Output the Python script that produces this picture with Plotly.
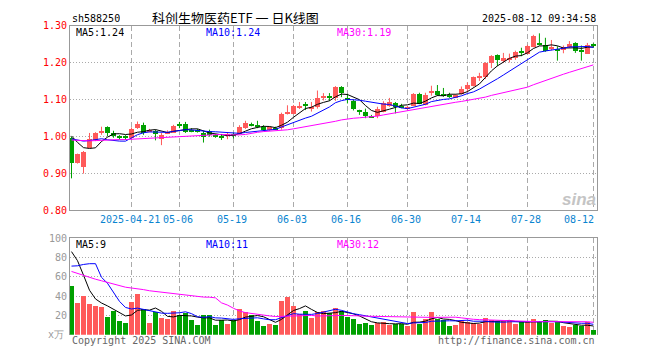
import pandas as pd
import plotly.graph_objects as go

# ---------------- data ----------------
holidays = ["2025-05-01", "2025-05-02", "2025-05-05", "2025-06-02"]
dates = [d.strftime("%Y-%m-%d") for d in pd.bdate_range("2025-04-07", "2025-08-12")
         if d.strftime("%Y-%m-%d") not in holidays]

open_ = [0.997, 0.930, 0.919, 0.969, 0.991, 1.009, 1.026, 1.011, 1.000, 1.000,
         0.997, 1.024, 1.032, 1.015, 1.015, 0.994, 1.009, 1.011, 1.035, 1.035,
         1.017, 1.016, 1.010, 1.016, 1.004, 1.003, 1.004, 1.005, 1.007, 1.023,
         1.033, 1.032, 1.026, 1.017, 1.023, 1.023, 1.061, 1.062, 1.079, 1.089,
         1.077, 1.080, 1.106, 1.110, 1.104, 1.135, 1.105, 1.096, 1.071, 1.068,
         1.054, 1.056, 1.067, 1.082, 1.090, 1.084, 1.074, 1.084, 1.115, 1.086,
         1.118, 1.124, 1.115, 1.112, 1.106, 1.115, 1.128, 1.137, 1.159, 1.161,
         1.200, 1.221, 1.205, 1.209, 1.212, 1.229, 1.225, 1.244, 1.255, 1.249,
         1.238, 1.235, 1.235, 1.244, 1.253, 1.234, 1.225, 1.248]
high = [0.999, 0.953, 0.960, 1.009, 1.011, 1.026, 1.027, 1.015, 1.003, 1.003,
        1.024, 1.040, 1.037, 1.020, 1.018, 1.009, 1.016, 1.031, 1.039, 1.039,
        1.022, 1.020, 1.014, 1.018, 1.007, 1.006, 1.010, 1.010, 1.030, 1.042,
        1.037, 1.042, 1.030, 1.027, 1.026, 1.064, 1.084, 1.085, 1.093, 1.093,
        1.093, 1.124, 1.117, 1.117, 1.136, 1.136, 1.115, 1.100, 1.072, 1.075,
        1.058, 1.080, 1.095, 1.104, 1.093, 1.088, 1.082, 1.117, 1.118, 1.118,
        1.137, 1.139, 1.131, 1.118, 1.114, 1.135, 1.146, 1.162, 1.172, 1.201,
        1.220, 1.222, 1.226, 1.224, 1.232, 1.240, 1.248, 1.275, 1.279, 1.267,
        1.261, 1.244, 1.246, 1.258, 1.255, 1.246, 1.253, 1.252]
low = [0.886, 0.926, 0.899, 0.968, 0.987, 1.004, 1.000, 0.996, 0.991, 0.990,
       0.991, 1.020, 1.004, 1.011, 0.989, 0.976, 1.006, 1.009, 1.022, 1.009,
       1.011, 1.010, 0.983, 0.999, 0.996, 0.990, 0.992, 0.994, 1.005, 1.020,
       1.027, 1.022, 1.014, 1.015, 1.019, 1.018, 1.059, 1.060, 1.074, 1.071,
       1.067, 1.075, 1.097, 1.096, 1.096, 1.106, 1.089, 1.070, 1.058, 1.049,
       1.050, 1.049, 1.065, 1.080, 1.062, 1.076, 1.072, 1.082, 1.087, 1.084,
       1.110, 1.109, 1.107, 1.104, 1.104, 1.113, 1.120, 1.135, 1.150, 1.155,
       1.185, 1.190, 1.199, 1.200, 1.207, 1.217, 1.222, 1.241, 1.246, 1.229,
       1.233, 1.205, 1.225, 1.240, 1.226, 1.205, 1.223, 1.240]
close = [0.930, 0.952, 0.959, 0.994, 1.009, 1.015, 1.011, 1.003, 0.997, 0.998,
         1.022, 1.035, 1.011, 1.017, 1.006, 1.004, 1.013, 1.028, 1.031, 1.013,
         1.015, 1.014, 0.998, 1.005, 1.001, 0.998, 1.007, 1.002, 1.027, 1.036,
         1.030, 1.025, 1.017, 1.025, 1.020, 1.062, 1.067, 1.083, 1.082, 1.082,
         1.080, 1.106, 1.109, 1.104, 1.135, 1.118, 1.100, 1.074, 1.069, 1.056,
         1.051, 1.074, 1.091, 1.095, 1.080, 1.080, 1.080, 1.115, 1.089, 1.112,
         1.124, 1.112, 1.112, 1.110, 1.112, 1.130, 1.141, 1.161, 1.165, 1.200,
         1.219, 1.209, 1.214, 1.214, 1.230, 1.227, 1.246, 1.272, 1.249, 1.232,
         1.240, 1.233, 1.242, 1.251, 1.233, 1.232, 1.249, 1.246]
volume = [50, 33, 40, 32, 30, 29, 18, 24, 14, 12,
          34, 42, 27, 12, 23, 17, 16, 24, 20, 22,
          15, 10, 20, 20, 10, 15, 11, 15, 27, 23,
          20, 14, 9, 11, 10, 35, 39, 30, 21, 24,
          17, 23, 24, 22, 28, 24, 18, 16, 11, 12,
          10, 12, 13, 10, 11, 11, 9, 23, 11, 16,
          23, 16, 15, 9, 10, 14, 13, 12, 11, 17,
          15, 14, 14, 14, 11, 13, 13, 16, 13, 15,
          12, 13, 9, 8, 10, 9, 13, 5]
# estimated values of the 29 sessions before the visible window (feed the moving averages)
prior_close = [0.985, 0.992, 0.996, 0.990, 0.983, 0.978, 0.985, 0.993, 0.998, 0.994,
               0.987, 0.982, 0.986, 0.991, 0.995, 0.990, 0.984, 0.980, 0.986, 0.992,
               0.988, 0.983, 0.979, 0.984, 0.990, 1.040, 1.030, 1.005, 1.000]
prior_volume = [98, 92, 96, 90, 78, 72, 75, 62, 58, 60,
                55, 63, 48, 44, 46, 42, 45, 40, 47, 43,
                30, 26, 24, 30, 170, 80, 115, 110, 75]

tick_dates = ["2025-04-21", "2025-05-06", "2025-05-19", "2025-06-03", "2025-06-16",
              "2025-06-30", "2025-07-14", "2025-07-28", "2025-08-12"]
tick_labels = ["2025-04-21", "05-06", "05-19", "06-03", "06-16",
               "06-30", "07-14", "07-28", "08-12"]
price_ticks = [0.80, 0.90, 1.00, 1.10, 1.20, 1.30]
vol_ticks = [20, 40, 60, 80, 100]

ma_price_labels = ["MA5:1.24", "MA10:1.24", "MA30:1.19"]
ma_vol_labels = ["MA5:9", "MA10:11", "MA30:12"]

# ---------------- styles ----------------
RED = "#ff5a5a"
GREEN = "#00a000"
MA_COLORS = ["#000000", "#0000ff", "#ff00ff"]
FRAME = "#999999"
GRID = "#aaaaaa"
MONO = "DejaVu Sans Mono"
OFF = 8                      # the page body adds an 8px margin
W, H = 660 - OFF, 360 - OFF  # so the figure itself is smaller and everything shifts by OFF
L_PX, R_PX = 70, 597
MAIN_TOP, MAIN_BOT = 20, 211
VOL_TOP, VOL_BOT = 240, 340

n = len(dates)
xs = list(range(n))
tickpos = [dates.index(d) for d in tick_dates]

all_close = pd.Series(prior_close + close)
all_vol = pd.Series(prior_volume + volume)
pma = [all_close.rolling(p).mean().tolist()[-n:] for p in (5, 10, 30)]
vma = [all_vol.rolling(p).mean().tolist()[-n:] for p in (5, 10, 30)]

up = [i for i in xs if close[i] >= open_[i]]
dn = [i for i in xs if close[i] < open_[i]]

fig = go.Figure()


def add_candles(idx, color):
    fig.add_trace(go.Bar(
        x=idx,
        base=[min(open_[i], close[i]) for i in idx],
        y=[max(abs(close[i] - open_[i]), 0.0027) for i in idx],
        width=0.8, marker=dict(color=color, line=dict(width=0)),
        xaxis="x", yaxis="y", hoverinfo="skip"))
    wx, wy = [], []
    for i in idx:
        wx += [i, i, None]
        wy += [low[i], high[i], None]
    fig.add_trace(go.Scatter(x=wx, y=wy, mode="lines",
                             line=dict(color=color, width=1),
                             xaxis="x", yaxis="y", hoverinfo="skip"))


add_candles(up, RED)
add_candles(dn, GREEN)

for ser, col in zip(pma, MA_COLORS):
    fig.add_trace(go.Scatter(x=xs, y=ser, mode="lines", line=dict(color=col, width=1),
                             xaxis="x", yaxis="y", hoverinfo="skip"))

fig.add_trace(go.Bar(x=up, y=[volume[i] for i in up], width=0.85,
                     marker=dict(color=RED, line=dict(width=0)), xaxis="x2", yaxis="y2"))
fig.add_trace(go.Bar(x=dn, y=[volume[i] for i in dn], width=0.85,
                     marker=dict(color=GREEN, line=dict(width=0)), xaxis="x2", yaxis="y2"))
for ser, col in zip(vma, MA_COLORS):
    fig.add_trace(go.Scatter(x=xs, y=ser, mode="lines", line=dict(color=col, width=1),
                             xaxis="x2", yaxis="y2", hoverinfo="skip"))


def px_x(px):
    return (px - OFF) / W


def px_y(px):
    return 1 - (px - OFF) / H


xdom = [px_x(L_PX), px_x(R_PX)]
xr = [-0.25, 87.6]

axis_common = dict(zeroline=False, showspikes=False)
fig.update_layout(
    width=W, height=H, margin=dict(l=0, r=0, t=0, b=0),
    paper_bgcolor="white", plot_bgcolor="white", showlegend=False,
    barmode="overlay", bargap=0,
    xaxis=dict(domain=xdom, range=xr, anchor="y", tickvals=tickpos, showticklabels=False,
               ticks="", showgrid=True, gridcolor=GRID, griddash="5px,3px", gridwidth=1,
               showline=True, mirror=True, linecolor=FRAME, linewidth=1, **axis_common),
    yaxis=dict(domain=[px_y(MAIN_BOT), px_y(MAIN_TOP)], range=[0.8, 1.3], anchor="x",
               tickvals=price_ticks, ticktext=["%.2f" % v for v in price_ticks],
               tickfont=dict(family=MONO, size=10, color="#ff0000"), ticks="",
               showgrid=True, gridcolor=GRID, griddash="1px,2px", gridwidth=1,
               showline=True, mirror=True, linecolor=FRAME, linewidth=1, **axis_common),
    xaxis2=dict(domain=xdom, range=xr, anchor="y2", matches="x", tickvals=tickpos,
                showticklabels=False, ticks="", side="top",
                showgrid=True, gridcolor=GRID, griddash="5px,3px", gridwidth=1,
                showline=True, mirror=False, linecolor=FRAME, linewidth=1, **axis_common),
    yaxis2=dict(domain=[px_y(VOL_BOT), px_y(VOL_TOP)], range=[0, 100], anchor="x2",
                tickvals=vol_ticks, ticktext=[str(v) for v in vol_ticks],
                tickfont=dict(family=MONO, size=10, color="#999999"), ticks="",
                showgrid=True, gridcolor=GRID, griddash="1px,2px", gridwidth=1,
                showline=True, mirror=True, linecolor=FRAME, linewidth=1, **axis_common),
)

ann = []


def text(x, y, s, color="#000000", size=10, family=MONO, xanchor="left", xref="paper", **kw):
    ann.append(dict(x=x if xref == "x" else px_x(x), y=px_y(y), xref=xref, yref="paper",
                    text=s, showarrow=False, xanchor=xanchor, yanchor="middle",
                    font=dict(family=family, size=size, color=color), **kw))


text(70, 12.5, "sh588250", height=12)
text(150, 11.5, "科创生物医药ETF 一 日K线图", size=13, family="Noto Sans CJK SC", height=14)
text(598, 12.5, "2025-08-12 09:34:58", xanchor="right", height=12)
for s, col, x0 in zip(ma_price_labels, MA_COLORS, [74, 204, 335]):
    text(x0, 27, s, color=col, height=12)
for s, col, x0 in zip(ma_vol_labels, MA_COLORS, [74, 204, 335]):
    text(x0, 246.5, s, color=col, height=12)
for p, lab in zip(tickpos, tick_labels):
    if p == n - 1:
        text(p + 0.35, 221, lab, color="#0a84d0", xref="x", xanchor="right")
    else:
        text(p - 0.2, 221, lab, color="#0a84d0", xref="x", xanchor="center")
text(66, 340, "x万", color="#999999", xanchor="right")
text(70, 346, "Copyright 2025 SINA.COM", color="#666666")
text(597, 346, "http://finance.sina.com.cn", color="#666666", xanchor="right")
text(598, 200, "<i><b>sina</b></i>", color="#c4c4c4", size=17, family="Arial", xanchor="right")
fig.update_layout(annotations=ann)

fig.write_html("out.html")
